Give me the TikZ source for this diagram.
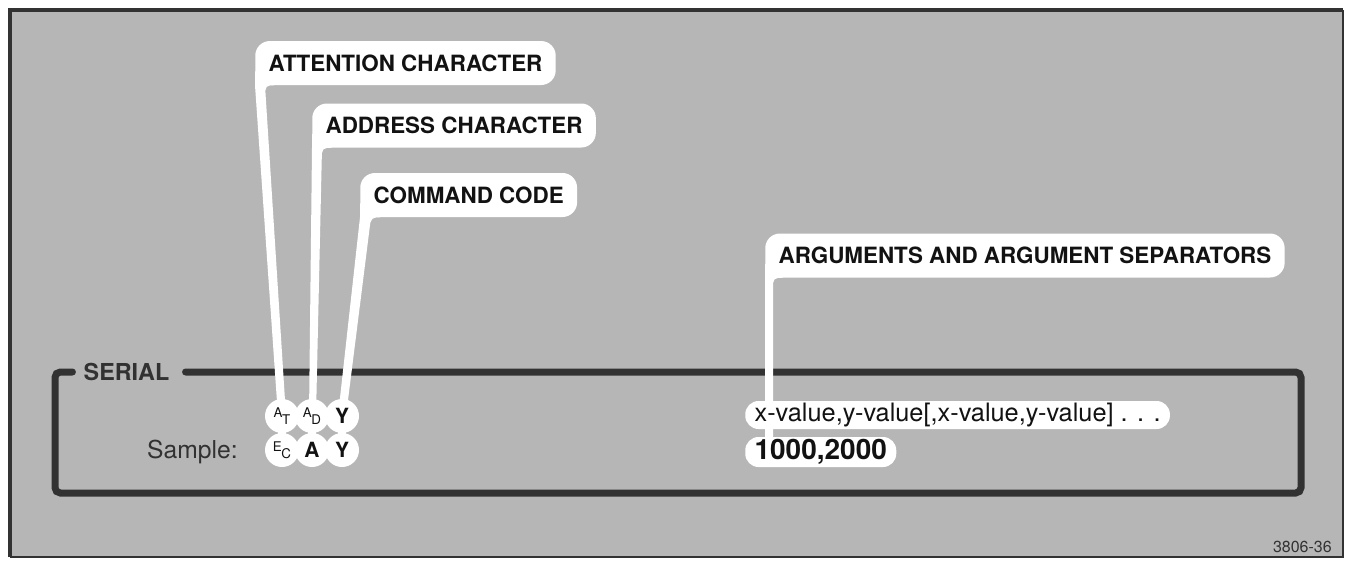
\documentclass[tikz,border=0pt]{standalone}
\usepackage{fontspec}
\setmainfont{TeX Gyre Heros}
\usepackage{tikz}
\usepackage{xcolor}
\usetikzlibrary{calc}
\definecolor{panelgray}{RGB}{182,182,182}
\definecolor{framedark}{RGB}{50,50,50}
\definecolor{inkdark}{RGB}{18,18,18}
\pgfdeclarelayer{panel}
\pgfdeclarelayer{leaders}
\pgfsetlayers{panel,leaders,main}

\begin{document}
\begin{tikzpicture}[x=0.75pt,y=0.75pt,yscale=-1,xscale=1,
  bubble/.style={fill=white,rounded corners=11pt,minimum height=33pt,inner xsep=10pt,inner ysep=0pt,anchor=west,text=inkdark,font=\fontsize{16.8}{20}\selectfont\bfseries},
  valbubble/.style={fill=white,rounded corners=10pt,inner xsep=7pt,inner ysep=0pt,anchor=west,text=inkdark},
  chardot/.style={circle,fill=white,minimum size=25.5pt,inner sep=0pt,text=inkdark}]
\useasboundingbox (0,0) rectangle (1346,562);

\begin{pgfonlayer}{panel}
%Shape: Panel
\fill[panelgray] (10,10) rectangle (1343,557);
\draw[framedark,line width=3.5pt] (10,557) -- (10,10) -- (1343,10);
\draw[framedark,line width=1pt] (1343,10) -- (1343,557) -- (10,557);
\end{pgfonlayer}

% Text Node
\node[text=framedark,inner sep=0pt,font=\fontsize{17.5}{20}\selectfont\bfseries] (serial) at (126.5,372) {SERIAL};
\begin{pgfonlayer}{panel}
%Shape: Serial frame
\draw[framedark,line width=5.25pt,line cap=round,rounded corners=4pt] ($(serial.west)+(-11,0)$) -- (55,372) -- (55,493) -- (1301,493) -- (1301,372) -- ($(serial.east)+(16,0)$);
\end{pgfonlayer}

% Text Node
\node[anchor=east,inner sep=0pt,text=framedark,font=\fontsize{18.5}{20}\selectfont] (sample) at (238,452) {Sample:};

%Shape: Circles
\node[chardot] (charAT) at (282,416) {\fontsize{10}{10}\selectfont\raisebox{2.5pt}{A}\kern-0.3pt\raisebox{-2.5pt}{T}};
\node[chardot] (charAD) at (312,416) {\fontsize{10}{10}\selectfont\raisebox{2.5pt}{A}\kern-0.3pt\raisebox{-2.5pt}{D}};
\node[chardot] (charY) at (342,416) {\fontsize{15.7}{16}\selectfont\bfseries Y};
\node[chardot] (sampEC) at (282,450) {\fontsize{10}{10}\selectfont\raisebox{2.5pt}{E}\kern-0.3pt\raisebox{-2.5pt}{C}};
\node[chardot] (sampA) at (312,450) {\fontsize{15.7}{16}\selectfont\bfseries A};
\node[chardot] (sampY) at (342,450) {\fontsize{15.7}{16}\selectfont\bfseries Y};

%Shape: Value bubbles
\node[valbubble,minimum height=21pt,font=\fontsize{19}{20}\selectfont] (argsfmt) at (745,415) {x-value,y-value[,x-value,y-value] . . .};
\node[valbubble,minimum height=22.5pt,font=\fontsize{21}{21}\selectfont\bfseries] (argsval) at (745,452) {1000,2000};

% Text Node
\node[bubble] (attn) at (255,63) {ATTENTION CHARACTER};
% Text Node
\node[bubble] (addr) at (312,125.5) {ADDRESS CHARACTER};
% Text Node
\node[bubble] (cmd) at (360,195) {COMMAND CODE};
% Text Node
\node[bubble] (args) at (765,255.5) {ARGUMENTS AND ARGUMENT SEPARATORS};

\begin{pgfonlayer}{leaders}
%Shape: Leaders
\fill[white] ($(attn.south west)+(0,-14)$) -- (attn.south west) -- ($(charAT.center)+(-4,0)$) -- ($(charAT.center)+(4,0)$) [rounded corners=4pt] -- ($(attn.south west)+(10,0)$) -- ($(attn.south west)+(24,0)$) [sharp corners] -- ($(attn.south west)+(24,-14)$) -- cycle;
\fill[white] ($(addr.south west)+(0,-14)$) -- (addr.south west) -- ($(charAD.center)+(-3,0)$) -- ($(charAD.center)+(4,0)$) [rounded corners=4pt] -- ($(addr.south west)+(10,0)$) -- ($(addr.south west)+(24,0)$) [sharp corners] -- ($(addr.south west)+(24,-14)$) -- cycle;
\fill[white] ($(cmd.south west)+(0,-14)$) -- (cmd.south west) -- ($(charY.center)+(-4,0)$) -- ($(charY.center)+(4,0)$) [rounded corners=4pt] -- ($(cmd.south west)+(11,0)$) -- ($(cmd.south west)+(25,0)$) [sharp corners] -- ($(cmd.south west)+(25,-14)$) -- cycle;
\fill[white] ($(args.south west)+(0,-14)$) -- (args.south west) -- (args.south west |- argsval.center) -- ($(args.south west |- argsval.center)+(8,0)$) [rounded corners=4pt] -- ($(args.south west)+(8,0)$) -- ($(args.south west)+(22,0)$) [sharp corners] -- ($(args.south west)+(22,-14)$) -- cycle;
% links between the rows
\fill[white] ($(charAT.center)+(-4,0)$) rectangle ($(sampEC.center)+(4,0)$);
\fill[white] ($(charAD.center)+(-4,0)$) rectangle ($(sampA.center)+(4,0)$);
\fill[white] ($(charY.center)+(-4,0)$) rectangle ($(sampY.center)+(4,0)$);
\end{pgfonlayer}

% Text Node
\node[anchor=east,inner sep=0pt,text=framedark,font=\fontsize{12}{12}\selectfont] (figno) at (1332,547) {3806-36};

\end{tikzpicture}
\end{document}
